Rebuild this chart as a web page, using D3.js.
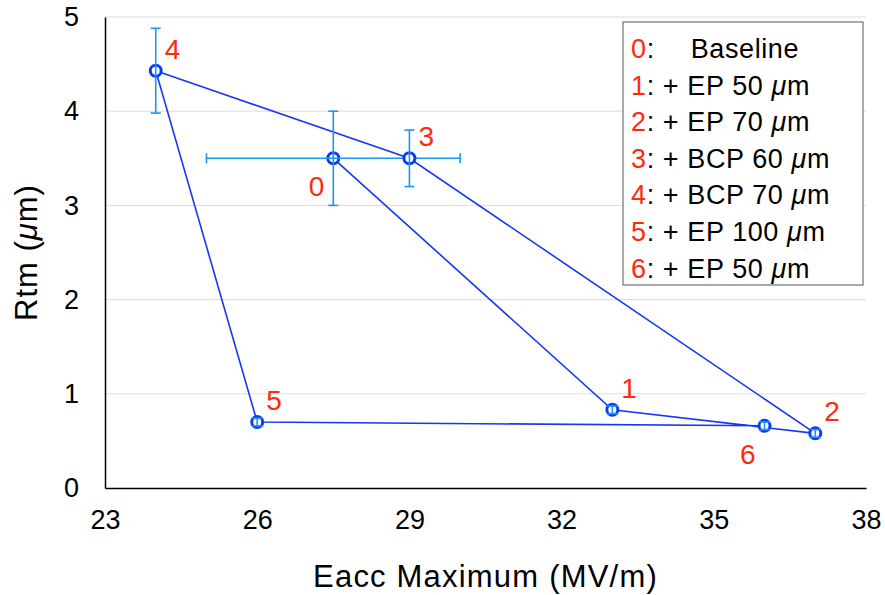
<!DOCTYPE html>
<meta charset="utf-8">
<style>
    body {
        margin: 0;
        font-family: "Liberation Sans", Helvetica, Arial, sans-serif;
        background: #fff;
    }

    .grid line {
        stroke: #dcdcdc;
        stroke-width: 1px;
    }

    .axis path, .axis line {
        stroke: #000;
    }
</style>

<body>
    <script src="https://cdn.jsdelivr.net/npm/d3@7"></script>

    <script>

        // data
        var steps = ["0", "1", "2", "3", "4", "5", "6"];
        var stepNames = ["Baseline", "+ EP 50 ", "+ EP 70 ", "+ BCP 60 ", "+ BCP 70 ", "+ EP 100 ", "+ EP 50 "];
        var eacc = [27.5, 33, 37, 29, 24, 26, 36];
        var rtm = [3.5, 0.83, 0.58, 3.5, 4.43, 0.70, 0.66];
        var eaccErr = [2.5, 0, 0, 0, 0, 0, 0];
        var rtmErr = [0.5, 0.04, 0.04, 0.3, 0.45, 0.04, 0.04];
        var labelSide = ["sw", "ne", "ne", "ne", "ne", "ne", "sw"];
        var xTicks = [23, 26, 29, 32, 35, 38];
        var yTicks = [0, 1, 2, 3, 4, 5];

        var width = 885,
            height = 595,
            margin = { top: 17, right: 19, bottom: 107, left: 105 };

        var x = d3.scaleLinear()
            .domain([23, 38])
            .range([margin.left, width - margin.right]);

        var y = d3.scaleLinear()
            .domain([0, 5])
            .range([height - margin.bottom, margin.top]);

        var svg = d3.select("body").append("svg")
            .attr("width", width)
            .attr("height", height);

        // horizontal grid
        svg.append("g").attr("class", "grid")
            .selectAll("line")
            .data(yTicks.filter(function (d) { return d > 0; }))
            .enter().append("line")
            .attr("x1", x(23)).attr("x2", x(38))
            .attr("y1", function (d) { return y(d); })
            .attr("y2", function (d) { return y(d); });

        var xAxis = svg.append("g").attr("class", "axis")
            .attr("transform", "translate(0," + y(0) + ")")
            .call(d3.axisBottom(x).tickValues(xTicks).tickSize(0).tickPadding(22).tickFormat(d3.format("d")));

        var yAxis = svg.append("g").attr("class", "axis")
            .attr("transform", "translate(" + x(23) + ",0)")
            .call(d3.axisLeft(y).tickValues(yTicks).tickSize(0).tickPadding(26).tickFormat(d3.format("d")));

        svg.selectAll(".axis path").attr("stroke-width", 1.5);
        svg.selectAll(".axis text")
            .attr("font-family", "'Liberation Sans', Helvetica, Arial, sans-serif")
            .attr("font-size", 27)
            .attr("fill", "#000");
        xAxis.selectAll("text").attr("dy", "0.71em");

        // axis titles
        svg.append("text")
            .attr("x", (x(23) + x(38)) / 2)
            .attr("y", 587)
            .attr("text-anchor", "middle")
            .attr("font-size", 31)
            .attr("letter-spacing", 1.2)
            .text("Eacc Maximum (MV/m)");

        var yt = svg.append("text")
            .attr("transform", "translate(37," + y(2.5) + ") rotate(-90)")
            .attr("text-anchor", "middle")
            .attr("font-size", 31)
            .attr("letter-spacing", 1);
        yt.append("tspan").text("Rtm (");
        yt.append("tspan").attr("font-style", "italic").text("\u03bc");
        yt.append("tspan").text("m)");

        var pts = steps.map(function (s, i) {
            return { id: s, x: eacc[i], y: rtm[i], ex: eaccErr[i], ey: rtmErr[i], side: labelSide[i] };
        });

        // connecting line in step order
        svg.append("path")
            .datum(pts)
            .attr("fill", "none")
            .attr("stroke", "#1637f5")
            .attr("stroke-width", 1.6)
            .attr("d", d3.line().x(function (d) { return x(d.x); }).y(function (d) { return y(d.y); }));

        var errColor = "#1e96f0";
        var cap = 5;

        var pt = svg.append("g").selectAll("g")
            .data(pts)
            .enter().append("g");

        pt.append("circle")
            .attr("cx", function (d) { return x(d.x); })
            .attr("cy", function (d) { return y(d.y); })
            .attr("r", 5.5)
            .attr("fill", "#fff")
            .attr("stroke", "#0a3cf0")
            .attr("stroke-width", 3);

        // vertical error bars
        pt.filter(function (d) { return d.ey > 0; }).each(function (d) {
            var g = d3.select(this);
            var cx = x(d.x), y0 = y(d.y - d.ey), y1 = y(d.y + d.ey);
            g.append("line").attr("x1", cx).attr("x2", cx).attr("y1", y0).attr("y2", y1)
                .attr("stroke", errColor).attr("stroke-width", 1.6);
            [y0, y1].forEach(function (yy) {
                g.append("line").attr("x1", cx - cap).attr("x2", cx + cap).attr("y1", yy).attr("y2", yy)
                    .attr("stroke", errColor).attr("stroke-width", 1.6);
            });
        });

        // horizontal error bars
        pt.filter(function (d) { return d.ex > 0; }).each(function (d) {
            var g = d3.select(this);
            var cy = y(d.y), x0 = x(d.x - d.ex), x1 = x(d.x + d.ex);
            g.append("line").attr("x1", x0).attr("x2", x1).attr("y1", cy).attr("y2", cy)
                .attr("stroke", errColor).attr("stroke-width", 1.6);
            [x0, x1].forEach(function (xx) {
                g.append("line").attr("x1", xx).attr("x2", xx).attr("y1", cy - cap).attr("y2", cy + cap)
                    .attr("stroke", errColor).attr("stroke-width", 1.6);
            });
        });

        // point labels
        pt.append("text")
            .attr("x", function (d) { return x(d.x) + (d.side == "ne" ? 9 : -9); })
            .attr("y", function (d) { return y(d.y) + (d.side == "ne" ? -12 : 38); })
            .attr("text-anchor", function (d) { return d.side == "ne" ? "start" : "end"; })
            .attr("font-size", 28)
            .attr("fill", "#ff2a0a")
            .text(function (d) { return d.id; });

        // legend
        var legend = svg.append("g").attr("transform", "translate(623,22)");
        legend.append("rect")
            .attr("width", 240).attr("height", 263)
            .attr("fill", "#fff").attr("stroke", "#555").attr("stroke-width", 1);

        var row = legend.selectAll("text")
            .data(steps)
            .enter().append("text")
            .attr("x", 8)
            .attr("y", function (d, i) { return 36 + i * 36.6; })
            .attr("font-size", 27)
            .attr("letter-spacing", 0.6)
            .attr("fill", "#000");
        row.append("tspan").attr("fill", "#ff2a0a").text(function (d) { return d; });
        row.append("tspan").text(function (d, i) { return i == 0 ? ":" : ": "; });
        row.append("tspan")
            .attr("dx", function (d, i) { return i == 0 ? 36 : 0; })
            .text(function (d, i) { return stepNames[i]; });
        row.filter(function (d, i) { return i > 0; }).append("tspan")
            .attr("font-style", "italic").text("\u03bc");
        row.filter(function (d, i) { return i > 0; }).append("tspan").text("m");

    </script>

</body>

</html>
